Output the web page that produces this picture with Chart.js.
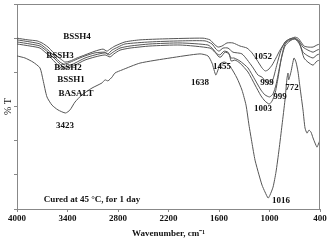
<!DOCTYPE html>
<html>
<head>
<meta charset="utf-8">
<script src="https://cdn.jsdelivr.net/npm/chart.js@4/dist/chart.umd.min.js"></script>
<style>
html,body{margin:0;padding:0;background:#fff;}
canvas{display:block;}
</style>
</head>
<body>
<canvas id="c" width="330" height="245"></canvas>
<script>
// Wavenumbers (cm-1) and %T values (arbitrary units 0-6)
const basaltWn = [4000,3905,3810,3727,3691,3644,3584,3513,3423,3370,3311,3228,3109,2990,2954,2919,2871,2836,2752,2539,2182,1826,1731,1683,1638,1612,1576,1529,1469,1386,1327,1279,1244,1208,1172,1125,1089,1054,1016,994,958,923,887,851,816,792,780,772,745,709,685,661,638,602,578,554,531,507,483,459,436,424,400];
const basaltT  = [4.48,4.42,4.30,4.13,3.78,3.28,3.04,2.90,2.81,2.90,3.13,3.34,3.54,3.69,3.78,3.75,3.86,3.98,4.07,4.27,4.42,4.54,4.48,4.27,3.92,4.07,4.27,4.30,4.18,3.83,3.48,3.04,2.46,1.93,1.43,1.00,0.70,0.50,0.32,0.41,0.64,1.08,1.73,2.46,3.19,3.83,3.98,3.78,4.01,4.42,4.30,4.01,3.57,2.90,2.37,2.22,2.31,2.25,2.08,1.93,1.81,1.87,2.02];

const bssh4Wn = [4000,3869,3762,3703,3632,3572,3513,3465,3430,3370,3287,3192,3073,2978,2931,2895,2836,2717,2539,2242,1790,1707,1659,1612,1564,1505,1434,1351,1267,1208,1149,1089,1052,1018,970,923,875,828,780,733,697,661,626,590,543,483,436,400];
const bssh4T  = [5.00,4.95,4.92,4.86,4.74,4.59,4.45,4.36,4.30,4.33,4.42,4.51,4.62,4.68,4.62,4.68,4.77,4.89,4.95,4.98,5.00,4.95,4.83,4.74,4.77,4.86,4.86,4.77,4.71,4.57,4.36,4.13,4.04,4.07,4.21,4.42,4.65,4.83,4.95,5.00,5.03,5.00,4.89,4.77,4.74,4.74,4.80,4.83];

const bssh3Wn = [4000,3846,3727,3632,3549,3489,3442,3394,3311,3192,3073,2954,2919,2871,2800,2717,2420,2063,1766,1683,1636,1600,1552,1493,1434,1327,1208,1137,1089,1042,999,958,911,863,816,756,697,650,602,543,483,436,400];
const bssh3T  = [4.95,4.89,4.83,4.65,4.45,4.30,4.24,4.27,4.36,4.48,4.57,4.59,4.54,4.65,4.74,4.83,4.89,4.92,4.92,4.83,4.68,4.62,4.71,4.71,4.59,4.54,4.18,3.92,3.86,3.72,3.66,3.80,4.24,4.65,4.89,4.98,5.00,4.92,4.74,4.65,4.59,4.65,4.68];

const bssh2Wn = [4000,3846,3727,3632,3549,3489,3442,3394,3311,3192,3073,2954,2907,2859,2776,2657,2420,2063,1731,1671,1624,1588,1541,1493,1457,1422,1351,1256,1172,1101,1054,999,958,923,887,851,816,756,697,650,602,543,483,436,400];
const bssh2T  = [4.89,4.83,4.77,4.59,4.39,4.24,4.15,4.18,4.27,4.42,4.51,4.57,4.51,4.59,4.71,4.77,4.83,4.86,4.80,4.68,4.54,4.51,4.62,4.59,4.42,4.42,4.33,4.13,3.78,3.48,3.34,3.28,3.37,3.63,4.07,4.51,4.83,4.95,4.98,4.89,4.59,4.48,4.42,4.51,4.54];

const bssh1Wn = [4000,3846,3727,3632,3549,3489,3442,3394,3311,3192,3073,2954,2895,2848,2776,2657,2420,2063,1707,1648,1600,1576,1529,1481,1455,1410,1351,1256,1172,1101,1054,1003,970,935,899,863,816,756,697,638,590,543,483,436,400];
const bssh1T  = [4.83,4.77,4.71,4.51,4.30,4.15,4.10,4.13,4.21,4.36,4.45,4.51,4.45,4.54,4.65,4.71,4.77,4.80,4.71,4.59,4.45,4.45,4.59,4.54,4.33,4.36,4.27,4.01,3.63,3.31,3.16,3.07,3.16,3.37,3.83,4.36,4.77,4.92,4.98,4.80,4.42,4.30,4.21,4.33,4.36];

const xTicks = [4000,3400,2800,2200,1600,1000,400];

// Text annotations: text, wavenumber, %T (centre of text)
const noteText = ["BSSH4","BSSH3","BSSH2","BSSH1","BASALT","3423","1638","1455","1052","999","999","1003","772","1016","Cured at 45 °C, for 1 day"];
const noteWn   = [3287,3489,3394,3358,3299,3430,1826,1564,1077,1030,875,1077,733,863,3109];
const noteT    = [5.03,4.48,4.13,3.78,3.39,2.43,3.69,4.16,4.45,3.69,3.28,2.93,3.54,0.23,0.26];

function pts(w,t){ return w.map((v,i)=>({x:v,y:t[i]})); }
const lineColor = '#555';
function ds(label,w,t){ return {label, data:pts(w,t), borderColor:lineColor, borderWidth:1, pointRadius:0, fill:false, tension:0.2}; }

const SERIF = '"Liberation Serif","Times New Roman",serif';

const notesPlugin = {
  id:'notes',
  afterDatasetsDraw(chart){
    const ctx = chart.ctx, xs = chart.scales.x, ys = chart.scales.y;
    ctx.save();
    ctx.font = 'bold 9px ' + SERIF;
    ctx.fillStyle = '#111';
    ctx.textAlign = 'center';
    ctx.textBaseline = 'middle';
    noteText.forEach((t,i)=>{
      ctx.fillText(t, xs.getPixelForValue(noteWn[i]), ys.getPixelForValue(noteT[i]));
    });
    ctx.restore();
  },
  afterDraw(chart){
    const a = chart.chartArea, ctx = chart.ctx;
    ctx.save();
    ctx.strokeStyle = '#888';
    ctx.lineWidth = 1;
    ctx.beginPath();
    ctx.moveTo(a.left, a.top + 0.5);
    ctx.lineTo(a.right - 0.5, a.top + 0.5);
    ctx.lineTo(a.right - 0.5, a.bottom);
    ctx.stroke();
    ctx.restore();
  }
};

new Chart(document.getElementById('c'), {
  type:'line',
  data:{ datasets:[
    ds('BASALT', basaltWn, basaltT),
    ds('BSSH1', bssh1Wn, bssh1T),
    ds('BSSH2', bssh2Wn, bssh2T),
    ds('BSSH3', bssh3Wn, bssh3T),
    ds('BSSH4', bssh4Wn, bssh4T)
  ]},
  options:{
    responsive:false,
    animation:false,
    devicePixelRatio:1,
    layout:{padding:{top:4,right:10,left:0,bottom:0}},
    plugins:{legend:{display:false}, tooltip:{enabled:false}},
    scales:{
      x:{
        type:'linear', reverse:true, min:400, max:4000,
        afterBuildTicks(s){ s.ticks = xTicks.map(v=>({value:v})); },
        afterFit(s){ s.height = 36; },
        border:{color:'#888', width:1},
        grid:{drawOnChartArea:false, color:'#888', tickLength:3},
        ticks:{color:'#111', padding:1, maxRotation:0, autoSkip:false, callback:(v)=>String(v), font:{family:SERIF, size:9, weight:'bold'}},
        title:{display:true, text:'Wavenumber, cm⁻¹', color:'#111', padding:{top:0,bottom:6}, font:{family:SERIF, size:9, weight:'bold'}}
      },
      y:{
        min:0, max:6,
        afterFit(s){ s.width = 17; },
        border:{color:'#888', width:1},
        grid:{drawOnChartArea:false, color:'#888', tickLength:3},
        ticks:{display:false, stepSize:1},
        title:{display:true, text:'% T', color:'#111', padding:{top:2,bottom:0}, font:{family:SERIF, size:10}}
      }
    }
  },
  plugins:[notesPlugin]
});
</script>
</body>
</html>
